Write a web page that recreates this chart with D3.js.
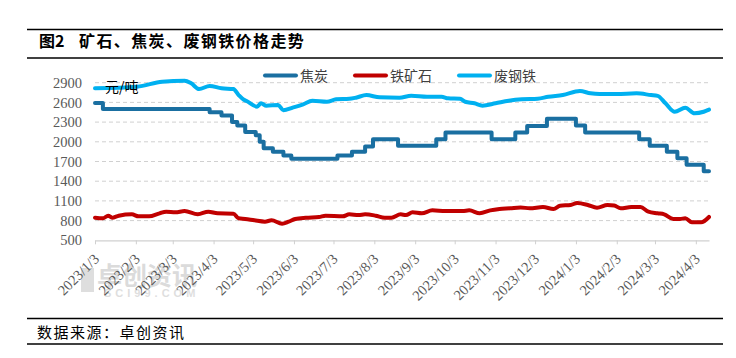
<!DOCTYPE html>
<html><head><meta charset="utf-8">
<script src="https://cdn.jsdelivr.net/npm/d3@7"></script>
<style>body{margin:0;background:#fff}</style>
</head><body><svg id="c" width="736" height="358"></svg>
<script>
const titleLead = "图2";
const titleRest = "矿石、焦炭、废钢铁价格走势";
const sourceText = "数据来源：卓创资讯";
const unitLabel = "元/吨";
const seriesNames = ["焦炭", "铁矿石", "废钢铁"];
const seriesColors = ["#1A6FA1", "#C00000", "#00B0F0"];
const xTickLabels = ["2023/1/3","2023/2/3","2023/3/3","2023/4/3","2023/5/3","2023/6/3","2023/7/3","2023/8/3","2023/9/3","2023/10/3","2023/11/3","2023/12/3","2024/1/3","2024/2/3","2024/3/3","2024/4/3"];
const yTicks = [500, 800, 1100, 1400, 1700, 2000, 2300, 2600, 2900];
const xDomain = ["2023-01-03", "2024-04-13"];

const cokeDates = ["2023-01-03","2023-01-09","2023-03-31","2023-04-09","2023-04-17","2023-04-21","2023-04-27","2023-05-05","2023-05-08","2023-05-11","2023-05-18","2023-05-26","2023-06-01","2023-07-06","2023-07-17","2023-07-27","2023-08-02","2023-08-21","2023-09-19","2023-09-26","2023-10-31","2023-11-18","2023-11-27","2023-12-12","2024-01-03","2024-01-10","2024-02-20","2024-02-28","2024-03-12","2024-03-20","2024-03-27","2024-04-09","2024-04-13"];
const cokeValues = [2590,2500,2450,2400,2300,2250,2150,2100,2000,1900,1850,1790,1740,1790,1850,1930,2040,1940,2040,2140,2040,2140,2240,2350,2250,2140,2040,1940,1850,1750,1650,1550,1550];

const oreDates = ["2023-01-03","2023-01-09","2023-01-13","2023-01-16","2023-01-21","2023-01-31","2023-02-05","2023-02-13","2023-02-21","2023-02-26","2023-03-05","2023-03-12","2023-03-22","2023-03-30","2023-04-06","2023-04-18","2023-04-22","2023-04-27","2023-05-04","2023-05-12","2023-05-17","2023-05-25","2023-05-30","2023-06-04","2023-06-12","2023-06-22","2023-06-27","2023-07-10","2023-07-15","2023-07-22","2023-07-27","2023-08-04","2023-08-11","2023-08-16","2023-08-23","2023-08-27","2023-09-01","2023-09-08","2023-09-16","2023-09-26","2023-10-09","2023-10-14","2023-10-22","2023-10-30","2023-11-06","2023-11-14","2023-11-22","2023-11-29","2023-12-09","2023-12-17","2023-12-22","2023-12-30","2024-01-04","2024-01-12","2024-01-19","2024-01-27","2024-02-01","2024-02-06","2024-02-14","2024-02-21","2024-02-27","2024-03-05","2024-03-10","2024-03-17","2024-03-22","2024-03-26","2024-03-31","2024-04-07","2024-04-13"];
const oreValues = [844,835,875,844,875,896,865,865,911,936,926,946,896,936,911,906,835,825,804,784,804,753,784,825,844,855,875,865,896,885,896,875,844,844,895,885,926,911,956,946,946,956,911,956,977,987,1000,987,1007,977,1027,1038,1068,1038,997,1038,1030,987,1007,1007,936,911,896,825,825,835,774,774,855];

const scrapDates = ["2023-01-03","2023-02-04","2023-02-23","2023-03-12","2023-03-17","2023-03-23","2023-03-31","2023-04-09","2023-04-18","2023-04-22","2023-04-26","2023-04-28","2023-05-06","2023-05-09","2023-05-13","2023-05-22","2023-05-26","2023-06-02","2023-06-10","2023-06-17","2023-06-28","2023-07-05","2023-07-15","2023-07-20","2023-07-28","2023-08-07","2023-08-22","2023-08-31","2023-09-12","2023-09-23","2023-09-28","2023-10-07","2023-10-11","2023-10-18","2023-10-24","2023-11-03","2023-11-13","2023-11-23","2023-12-05","2023-12-13","2023-12-24","2024-01-06","2024-01-14","2024-01-21","2024-02-03","2024-02-18","2024-02-29","2024-03-05","2024-03-11","2024-03-18","2024-03-26","2024-04-02","2024-04-09","2024-04-13"];
const scrapValues = [2815,2840,2915,2930,2890,2804,2850,2815,2804,2712,2640,2621,2535,2586,2550,2560,2480,2520,2570,2625,2610,2647,2655,2672,2712,2677,2672,2702,2687,2687,2662,2655,2610,2586,2550,2586,2625,2647,2655,2687,2712,2773,2738,2727,2727,2738,2712,2700,2586,2458,2520,2434,2458,2490];

const parseD = d3.timeParse("%Y-%m-%d");
const parseT = d3.timeParse("%Y/%m/%d");
const svg = d3.select("#c");

const x = d3.scaleTime().domain(xDomain.map(parseD)).range([95, 709]);
const y = d3.scaleLinear().domain([500, 2900]).range([240.3, 82.7]);

// frame lines
const rule = (y0, w) => svg.append("line").attr("x1", 27).attr("x2", 723).attr("y1", y0).attr("y2", y0).attr("stroke", "#000").attr("stroke-width", w);
rule(29.5, 1.5); rule(58, 1.5); rule(318.5, 1.5); rule(344, 1.5);

svg.append("text").attr("x", 39).attr("y", 47).attr("font-family", "Noto Sans CJK SC").attr("font-weight", "bold").attr("font-size", 16).attr("fill", "#000").text(titleLead);
svg.append("text").attr("x", 79).attr("y", 47).attr("font-family", "Noto Sans CJK SC").attr("font-weight", "bold").attr("font-size", 16).attr("letter-spacing", 1.4).attr("fill", "#000").text(titleRest);
svg.append("text").attr("x", 37).attr("y", 338).attr("font-family", "Noto Sans CJK SC").attr("font-size", 15).attr("letter-spacing", 1.5).attr("fill", "#000").text(sourceText);

// watermark
const wm = svg.append("g").attr("opacity", 0.45);
wm.append("rect").attr("x", 81).attr("y", 268).attr("width", 13).attr("height", 24).attr("fill", "#b8b8b8");
wm.append("text").attr("x", 97).attr("y", 285).attr("font-family", "Noto Sans CJK SC").attr("font-weight", "bold").attr("font-size", 25).attr("fill", "#b0b0b0").text("卓创资讯");
wm.append("text").attr("x", 104).attr("y", 297).attr("font-family", "Liberation Sans").attr("font-weight", "bold").attr("font-size", 11).attr("letter-spacing", 4).attr("fill", "#b8b8b8").text("SCI99.COM");

// gridlines
svg.append("g").selectAll("line").data(yTicks.filter(v => v > 500)).join("line")
  .attr("x1", 95).attr("x2", 709).attr("y1", d => y(d)).attr("y2", d => y(d))
  .attr("stroke", "#D0D0D0").attr("stroke-width", 1).attr("stroke-dasharray", "4,3");

// y axis labels
const ya = svg.append("g").attr("transform", "translate(95,0)")
  .call(d3.axisLeft(y).tickValues(yTicks).tickSize(0).tickPadding(13).tickFormat(d3.format("d")));
ya.select(".domain").remove();
ya.selectAll("text").attr("font-family", "Liberation Serif").attr("font-size", 14.5).attr("fill", "#595959");

// x axis
const tickDates = xTickLabels.map(parseT);
const xa = svg.append("g").attr("transform", "translate(0,240.3)")
  .call(d3.axisBottom(x).tickValues(tickDates).tickSize(4).tickSizeOuter(0).tickFormat((d, i) => xTickLabels[i]));
xa.select(".domain").attr("stroke", "#D0D0D0").attr("stroke-width", 1.2);
xa.selectAll(".tick line").attr("stroke", "#D0D0D0");
xa.selectAll("text").attr("font-family", "Liberation Serif").attr("font-size", 14.5).attr("fill", "#595959")
  .attr("text-anchor", "end").attr("y", 0).attr("dy", "0.35em")
  .attr("transform", "translate(1,16) rotate(-45)");

// lines
const mk = (dates, vals) => dates.map((d, i) => ({ d: parseD(d), v: vals[i] }));
const lineStep = d3.line().x(p => x(p.d)).y(p => y(p.v)).curve(d3.curveStepAfter);
const lineSm = d3.line().x(p => x(p.d)).y(p => y(p.v)).curve(d3.curveMonotoneX);
const plot = svg.append("g").attr("fill", "none").attr("stroke-width", 4).attr("stroke-linejoin", "round").attr("stroke-linecap", "round");
plot.append("path").attr("d", lineStep(mk(cokeDates, cokeValues))).attr("stroke", seriesColors[0]);
plot.append("path").attr("d", lineSm(mk(oreDates, oreValues))).attr("stroke", seriesColors[1]);
plot.append("path").attr("d", lineSm(mk(scrapDates, scrapValues))).attr("stroke", seriesColors[2]);

// unit label
svg.append("text").attr("x", 105).attr("y", 92).attr("font-family", "Noto Sans CJK SC").attr("font-size", 14).attr("fill", "#000").text(unitLabel);

// legend
const legX = [263, 353, 457];
const leg = svg.append("g");
seriesNames.forEach((n, i) => {
  leg.append("line").attr("x1", legX[i] + 2).attr("x2", legX[i] + 33).attr("y1", 75.5).attr("y2", 75.5)
    .attr("stroke", seriesColors[i]).attr("stroke-width", 4).attr("stroke-linecap", "round");
  leg.append("text").attr("x", legX[i] + 37).attr("y", 80.5).attr("font-family", "Noto Sans CJK SC").attr("font-size", 14).attr("fill", "#404040").text(n);
});
</script></body></html>
